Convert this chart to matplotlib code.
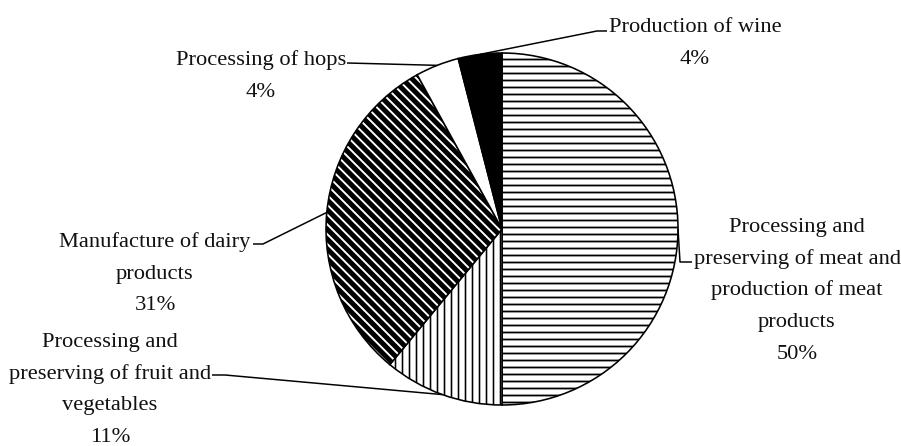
import numpy as np
import matplotlib
matplotlib.use("Agg")
import matplotlib.pyplot as plt

# ---- data ----
categories = [
    "Processing and\npreserving of meat and\nproduction of meat\nproducts",
    "Processing and\npreserving of fruit and\nvegetables",
    "Manufacture of dairy\nproducts",
    "Processing of hops",
    "Production of wine",
]
shares = [50, 11, 31, 4, 4]
hatches = ["-------", "|||||||", "\\" * 10, "", ""]
fills = ["white", "white", "white", "white", "black"]

# ---- layout (pixel units) ----
W, H = 901, 446
DPI = 294
def pt(px):
    return px * 72.0 / DPI

fig = plt.figure(figsize=((W + 0.01) / DPI, (H + 0.01) / DPI), dpi=DPI)
ax = fig.add_axes([0, 0, 1, 1])

cx, cy_img, R = 502, 229, 176
cy = H - cy_img

wedges, _ = ax.pie(shares, center=(cx, cy), radius=R, startangle=90,
                   counterclock=False, colors=fills, frame=True,
                   wedgeprops=dict(edgecolor="black", linewidth=pt(1.6)))
hatch_lw = [pt(1.8), pt(1.6), pt(5.0), pt(1), pt(1)]
for w, h, hl in zip(wedges, hatches, hatch_lw):
    if h:
        w.set_hatch(h)
        if hasattr(w, "set_hatch_linewidth"):
            w.set_hatch_linewidth(hl)

ax.set_xlim(0, W)
ax.set_ylim(0, H)
ax.set_aspect("equal")
ax.axis("off")

# anchors at wedge arc midpoints
tot = float(sum(shares))
cum = np.concatenate([[0], np.cumsum(shares)[:-1]])
mid = np.deg2rad(90 - 360 * (cum + np.array(shares) / 2) / tot)
ax_x = cx + R * np.cos(mid)
ax_y = cy + R * np.sin(mid)

# label placement: (center x, first baseline y in image px), elbow points (image px)
label_pos = [(797, 232), (110, 347), (155, 247), (261, 65), (695, 32)]
elbows = [
    [(680, 262), (692, 262)],
    [(225, 375), (212, 375)],
    [(263, 244), (253, 244)],
    [(347, 63)],
    [(597, 31), (607, 31)],
]
LS = 31.7
fs = pt(22.5)
for i, (cat, v) in enumerate(zip(categories, shares)):
    lines = cat.split("\n") + [f"{v:.0f}%"]
    x0, y0 = label_pos[i]
    for k, ln in enumerate(lines):
        ax.text(x0, H - (y0 + k * LS), ln, ha="center", va="baseline",
                fontsize=fs, family="Liberation Serif", color="#111111")
    xs = [ax_x[i]] + [p[0] for p in elbows[i]]
    ys = [ax_y[i]] + [H - p[1] for p in elbows[i]]
    ax.plot(xs, ys, color="black", lw=pt(1.5), solid_capstyle="butt")

fig.savefig("out.png", dpi=DPI, facecolor="white")
